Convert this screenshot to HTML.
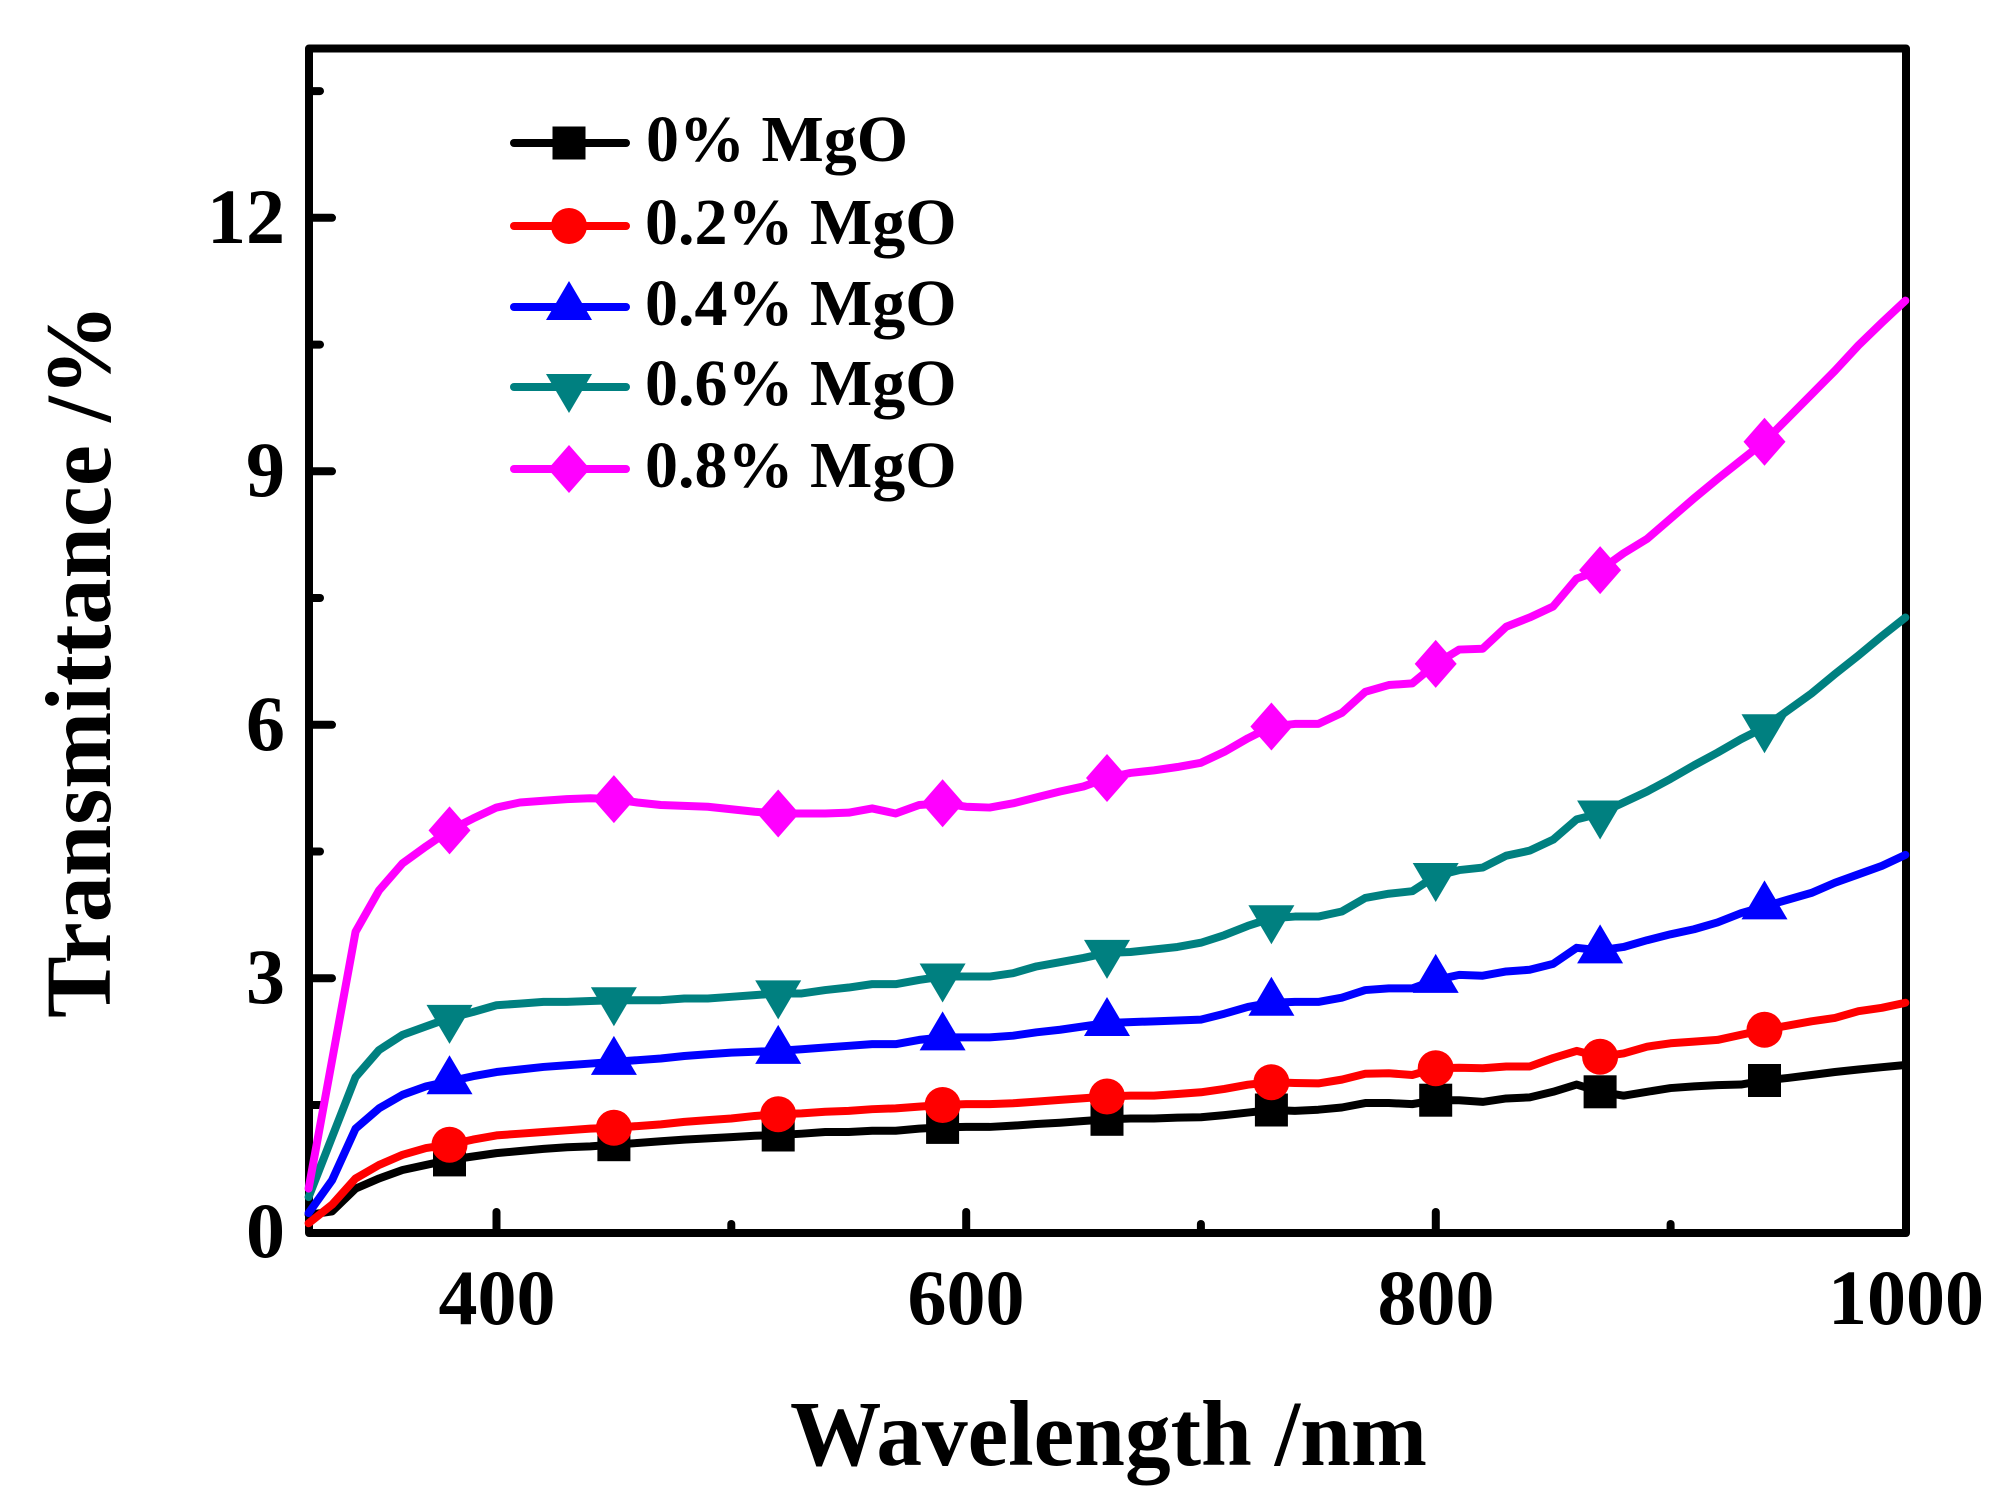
<!DOCTYPE html>
<html>
<head>
<meta charset="utf-8">
<style>
  html, body { margin: 0; padding: 0; background: #ffffff; }
  svg { display: block; }
  text { font-family: "Liberation Serif", "Times New Roman", serif; font-weight: bold; fill: #000; }
</style>
</head>
<body>
<svg width="2016" height="1509" viewBox="0 0 2016 1509" xmlns="http://www.w3.org/2000/svg">
  <defs>
    <rect id="sq" x="-16.5" y="-16.5" width="33" height="33" fill="#000"/>
    <circle id="ci" cx="0" cy="0" r="18" fill="#ff0000"/>
    <polygon id="tu" points="0,-26 23,13 -23,13" fill="#0000ff"/>
    <polygon id="td" points="0,26 23,-13 -23,-13" fill="#008080"/>
    <polygon id="di" points="0,-24 21,0 0,24 -21,0" fill="#ff00ff"/>
  </defs>

  <!-- ticks -->
  <g stroke="#000" stroke-width="8" stroke-linecap="round" fill="none">
    <!-- y major -->
    <line x1="309" y1="978.2" x2="332" y2="978.2"/>
    <line x1="309" y1="724.8" x2="332" y2="724.8"/>
    <line x1="309" y1="471.3" x2="332" y2="471.3"/>
    <line x1="309" y1="217.8" x2="332" y2="217.8"/>
    <!-- y minor -->
    <line x1="309" y1="1105" x2="320" y2="1105"/>
    <line x1="309" y1="851.5" x2="320" y2="851.5"/>
    <line x1="309" y1="598" x2="320" y2="598"/>
    <line x1="309" y1="344.6" x2="320" y2="344.6"/>
    <line x1="309" y1="91.1" x2="320" y2="91.1"/>
    <!-- x major -->
    <line x1="496.5" y1="1233" x2="496.5" y2="1212"/>
    <line x1="966.2" y1="1233" x2="966.2" y2="1212"/>
    <line x1="1435.8" y1="1233" x2="1435.8" y2="1212"/>
    <!-- x minor -->
    <line x1="731.3" y1="1233" x2="731.3" y2="1224"/>
    <line x1="1200.9" y1="1233" x2="1200.9" y2="1224"/>
    <line x1="1670.6" y1="1233" x2="1670.6" y2="1224"/>
  </g>

  <!-- axes box -->
  <rect x="309" y="48.5" width="1597" height="1184.5" fill="none" stroke="#000" stroke-width="8" stroke-linejoin="round"/>

  <!-- series lines -->
  <g transform="translate(308.6,1231.7) scale(2.3482,-84.49)" fill="none" stroke-linejoin="round" stroke-linecap="round">
    <polyline vector-effect="non-scaling-stroke" stroke="#000000" stroke-width="8" points="0,0.20 10,0.24 20,0.51 30,0.63 40,0.73 50,0.79 60,0.85 70,0.89 80,0.93 90,0.955 100,0.98 110,1.00 120,1.01 130,1.03 140,1.05 150,1.07 160,1.09 170,1.105 180,1.12 190,1.135 200,1.145 210,1.16 220,1.18 230,1.18 240,1.195 250,1.195 260,1.22 270,1.235 280,1.24 290,1.24 300,1.255 310,1.275 320,1.29 330,1.31 340,1.33 350,1.34 360,1.34 370,1.35 380,1.355 390,1.38 400,1.41 410,1.44 420,1.43 430,1.444 440,1.47 450,1.523 460,1.523 470,1.51 480,1.556 490,1.556 500,1.536 510,1.577 520,1.59 530,1.656 540,1.742 550,1.656 560,1.61 570,1.656 580,1.70 590,1.72 600,1.735 610,1.742 620,1.79 630,1.82 640,1.855 650,1.89 660,1.92 670,1.947 680,1.973"/>
  </g>
  <g>
    <use href="#sq" x="449.5" y="1159.9"/>
    <use href="#sq" x="613.9" y="1144.7"/>
    <use href="#sq" x="778.2" y="1135.0"/>
    <use href="#sq" x="942.6" y="1127.4"/>
    <use href="#sq" x="1107.0" y="1119.3"/>
    <use href="#sq" x="1271.4" y="1110.0"/>
    <use href="#sq" x="1435.7" y="1100.2"/>
    <use href="#sq" x="1600.1" y="1091.8"/>
    <use href="#sq" x="1764.5" y="1080.5"/>
  </g>

  <g transform="translate(308.6,1231.7) scale(2.3482,-84.49)" fill="none" stroke-linejoin="round" stroke-linecap="round">
    <polyline vector-effect="non-scaling-stroke" stroke="#ff0000" stroke-width="8" points="0,0.10 10,0.32 20,0.63 30,0.79 40,0.91 50,0.99 60,1.03 70,1.09 80,1.14 90,1.16 100,1.18 110,1.20 120,1.22 130,1.23 140,1.25 150,1.27 160,1.30 170,1.32 180,1.34 190,1.37 200,1.39 210,1.40 220,1.42 230,1.43 240,1.45 250,1.46 260,1.48 270,1.50 280,1.51 290,1.51 300,1.52 310,1.54 320,1.56 330,1.58 340,1.60 350,1.61 360,1.61 370,1.63 380,1.65 390,1.69 400,1.74 410,1.77 420,1.76 430,1.755 440,1.80 450,1.87 460,1.875 470,1.855 480,1.935 490,1.94 500,1.935 510,1.955 520,1.955 530,2.055 540,2.14 550,2.07 560,2.11 570,2.19 580,2.23 590,2.25 600,2.27 610,2.33 620,2.39 630,2.44 640,2.49 650,2.53 660,2.61 670,2.65 680,2.71"/>
  </g>
  <g>
    <use href="#ci" x="449.5" y="1144.7"/>
    <use href="#ci" x="613.9" y="1127.8"/>
    <use href="#ci" x="778.2" y="1114.3"/>
    <use href="#ci" x="942.6" y="1105.0"/>
    <use href="#ci" x="1107.0" y="1096.5"/>
    <use href="#ci" x="1271.4" y="1082.2"/>
    <use href="#ci" x="1435.7" y="1068.2"/>
    <use href="#ci" x="1600.1" y="1056.8"/>
    <use href="#ci" x="1764.5" y="1029.8"/>
  </g>

  <g transform="translate(308.6,1231.7) scale(2.3482,-84.49)" fill="none" stroke-linejoin="round" stroke-linecap="round">
    <polyline vector-effect="non-scaling-stroke" stroke="#0000ff" stroke-width="8" points="0,0.22 10,0.61 20,1.22 30,1.46 40,1.62 50,1.72 60,1.78 70,1.84 80,1.89 90,1.92 100,1.95 110,1.97 120,1.99 130,2.01 140,2.03 150,2.05 160,2.08 170,2.10 180,2.12 190,2.13 200,2.14 210,2.16 220,2.18 230,2.20 240,2.22 250,2.22 260,2.27 270,2.30 280,2.30 290,2.30 300,2.32 310,2.36 320,2.39 330,2.43 340,2.47 350,2.48 360,2.49 370,2.50 380,2.51 390,2.58 400,2.66 410,2.71 420,2.72 430,2.72 440,2.77 450,2.86 460,2.88 470,2.88 480,2.98 490,3.04 500,3.03 510,3.08 520,3.10 530,3.17 540,3.36 550,3.33 560,3.37 570,3.45 580,3.52 590,3.58 600,3.66 610,3.77 620,3.85 630,3.93 640,4.01 650,4.13 660,4.23 670,4.33 680,4.46"/>
  </g>
  <g>
    <use href="#tu" x="449.5" y="1081.3"/>
    <use href="#tu" x="613.9" y="1061.9"/>
    <use href="#tu" x="778.2" y="1050.9"/>
    <use href="#tu" x="942.6" y="1037.4"/>
    <use href="#tu" x="1107.0" y="1023.0"/>
    <use href="#tu" x="1271.4" y="1002.7"/>
    <use href="#tu" x="1435.7" y="979.9"/>
    <use href="#tu" x="1600.1" y="950.4"/>
    <use href="#tu" x="1764.5" y="906.4"/>
  </g>

  <g transform="translate(308.6,1231.7) scale(2.3482,-84.49)" fill="none" stroke-linejoin="round" stroke-linecap="round">
    <polyline vector-effect="non-scaling-stroke" stroke="#008080" stroke-width="8" points="0,0.41 10,1.12 20,1.83 30,2.15 40,2.33 50,2.43 60,2.53 70,2.60 80,2.68 90,2.70 100,2.72 110,2.72 120,2.73 130,2.74 140,2.74 150,2.74 160,2.76 170,2.76 180,2.78 190,2.80 200,2.82 210,2.82 220,2.86 230,2.89 240,2.93 250,2.93 260,2.98 270,3.02 280,3.02 290,3.02 300,3.06 310,3.14 320,3.19 330,3.24 340,3.30 350,3.31 360,3.34 370,3.37 380,3.42 390,3.51 400,3.62 410,3.71 420,3.73 430,3.73 440,3.79 450,3.95 460,4.00 470,4.03 480,4.21 490,4.28 500,4.31 510,4.45 520,4.51 530,4.64 540,4.88 550,4.95 560,5.08 570,5.21 580,5.36 590,5.52 600,5.67 610,5.83 620,5.97 630,6.17 640,6.37 650,6.60 660,6.82 670,7.05 680,7.27"/>
  </g>
  <g>
    <use href="#td" x="449.5" y="1017.9"/>
    <use href="#td" x="613.9" y="1000.2"/>
    <use href="#td" x="778.2" y="993.4"/>
    <use href="#td" x="942.6" y="976.5"/>
    <use href="#td" x="1107.0" y="952.9"/>
    <use href="#td" x="1271.4" y="918.2"/>
    <use href="#td" x="1435.7" y="876.0"/>
    <use href="#td" x="1600.1" y="813.5"/>
    <use href="#td" x="1764.5" y="727.3"/>
  </g>

  <g transform="translate(308.6,1231.7) scale(2.3482,-84.49)" fill="none" stroke-linejoin="round" stroke-linecap="round">
    <polyline vector-effect="non-scaling-stroke" stroke="#ff00ff" stroke-width="8" points="0,0.51 10,2.03 20,3.55 30,4.04 40,4.36 50,4.56 60,4.75 70,4.89 80,5.02 90,5.08 100,5.10 110,5.12 120,5.13 130,5.12 140,5.08 150,5.05 160,5.04 170,5.03 180,5.00 190,4.97 200,4.95 210,4.95 220,4.95 230,4.96 240,5.01 250,4.95 260,5.05 270,5.07 280,5.03 290,5.02 300,5.07 310,5.14 320,5.21 330,5.27 340,5.37 350,5.43 360,5.46 370,5.50 380,5.55 390,5.68 400,5.84 410,5.98 420,6.01 430,6.01 440,6.14 450,6.39 460,6.47 470,6.49 480,6.72 490,6.89 500,6.90 510,7.16 520,7.27 530,7.40 540,7.73 550,7.83 560,8.03 570,8.20 580,8.44 590,8.68 600,8.91 610,9.13 620,9.35 630,9.63 640,9.91 650,10.19 660,10.49 670,10.76 680,11.02"/>
  </g>
  <g>
    <use href="#di" x="449.5" y="830.4"/>
    <use href="#di" x="613.9" y="799.1"/>
    <use href="#di" x="778.2" y="813.5"/>
    <use href="#di" x="942.6" y="803.3"/>
    <use href="#di" x="1107.0" y="778.0"/>
    <use href="#di" x="1271.4" y="726.5"/>
    <use href="#di" x="1435.7" y="663.9"/>
    <use href="#di" x="1600.1" y="570.1"/>
    <use href="#di" x="1764.5" y="441.7"/>
  </g>

  <!-- y tick labels -->
  <g font-size="78" text-anchor="end">
    <text x="285" y="1257">0</text>
    <text x="285" y="1003">3</text>
    <text x="285" y="750">6</text>
    <text x="285" y="496">9</text>
    <text x="285" y="243">12</text>
  </g>
  <!-- x tick labels -->
  <g font-size="78" text-anchor="middle">
    <text x="497" y="1324">400</text>
    <text x="966" y="1324">600</text>
    <text x="1436" y="1324">800</text>
    <text x="1906" y="1324">1000</text>
  </g>

  <!-- axis titles -->
  <text x="790" y="1465" font-size="93" textLength="637" lengthAdjust="spacingAndGlyphs">Wavelength /nm</text>
  <text transform="translate(110,1018) rotate(-90)" x="0" y="0" font-size="93" textLength="714" lengthAdjust="spacingAndGlyphs">Transmittance /%</text>

  <!-- legend -->
  <g stroke-width="8" stroke-linecap="round">
    <line x1="514" y1="143" x2="626" y2="143" stroke="#000000"/>
    <line x1="514" y1="226" x2="626" y2="226" stroke="#ff0000"/>
    <line x1="514" y1="307" x2="626" y2="307" stroke="#0000ff"/>
    <line x1="514" y1="387" x2="626" y2="387" stroke="#008080"/>
    <line x1="514" y1="469" x2="626" y2="469" stroke="#ff00ff"/>
  </g>
  <use href="#sq" x="569" y="143"/>
  <use href="#ci" x="569" y="226"/>
  <use href="#tu" x="569" y="307"/>
  <use href="#td" x="569" y="387"/>
  <use href="#di" x="569" y="469"/>
  <g font-size="66">
    <text x="646" y="161">0% MgO</text>
    <text x="645" y="244">0.2% MgO</text>
    <text x="645" y="325">0.4% MgO</text>
    <text x="645" y="405">0.6% MgO</text>
    <text x="645" y="487">0.8% MgO</text>
  </g>
</svg>
</body>
</html>
